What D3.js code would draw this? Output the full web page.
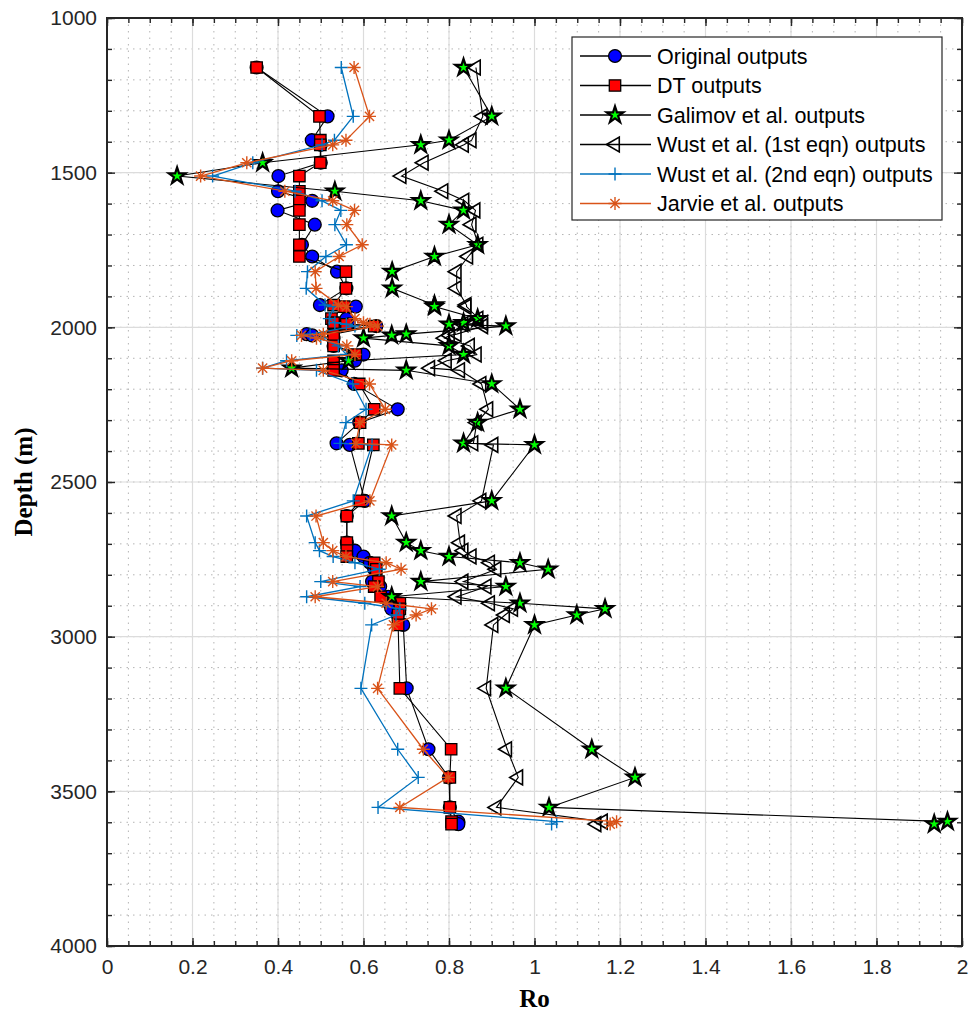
<!DOCTYPE html>
<html>
<head>
<meta charset="utf-8">
<script src="https://cdn.jsdelivr.net/npm/d3@7/dist/d3.min.js"></script>
<style>
	body { margin: 0; background: #fff; }
	text { font-family: 'Liberation Sans', Arial, sans-serif; }
</style>
</head>
<body>
<svg id="chart" width="978" height="1018"></svg>
<script>
// sample depths (m) - every series is plotted against the same depths
var depths = [1160, 1318, 1395, 1410, 1468, 1511, 1560, 1591, 1622, 1668, 1733, 1771, 1820, 1874, 1928, 1933,
	1972, 1985, 1990, 1996, 2022, 2026, 2035, 2060, 2088, 2108, 2132, 2139, 2183, 2265, 2308, 2375, 2380,
	2561, 2610, 2696, 2722, 2741, 2761, 2782, 2822, 2838, 2871, 2892, 2910, 2930, 2962,
	3167, 3364, 3455, 3552, 3598, 3606];

var originalRo = [0.35, 0.516, 0.479, 0.50, 0.50, 0.401, 0.40, 0.48, 0.399, 0.486, 0.456, 0.48, 0.538, 0.56, 0.498, 0.582,
	0.56, 0.53, 0.565, 0.63, 0.467, 0.48, 0.53, 0.53, 0.60, 0.58, 0.53, 0.549, 0.578, 0.68, 0.59, 0.537, 0.568,
	0.603, 0.561, 0.561, 0.58, 0.60, 0.615, 0.625, 0.62, 0.639, 0.658, 0.66, 0.665, 0.68, 0.693,
	0.701, 0.752, 0.80, 0.802, 0.822, 0.822];

var dtRo = [0.35, 0.497, 0.499, 0.499, 0.499, 0.45, 0.45, 0.45, 0.45, 0.45, 0.45, 0.45, 0.559, 0.559, 0.53, 0.555,
	0.525, 0.53, 0.56, 0.625, 0.53, 0.53, 0.53, 0.53, 0.582, 0.53, 0.53, 0.53, 0.59, 0.625, 0.592, 0.588, 0.623,
	0.592, 0.561, 0.561, 0.561, 0.561, 0.625, 0.63, 0.635, 0.625, 0.64, 0.685, 0.685, 0.681, 0.681,
	0.685, 0.805, 0.802, 0.802, 0.806, 0.806];

var galimovRo = [0.834, 0.90, 0.80, 0.734, 0.364, 0.164, 0.533, 0.734, 0.834, 0.80, 0.867, 0.766, 0.667, 0.667, 0.766, 0.766,
	0.867, 0.834, 0.80, 0.933, 0.70, 0.666, 0.60, 0.80, 0.834, 0.565, 0.432, 0.70, 0.90, 0.966, 0.867, 0.834, 1.0,
	0.90, 0.666, 0.70, 0.734, 0.80, 0.966, 1.032, 0.734, 0.933, 0.666, 0.966, 1.165, 1.099, 1.0,
	0.933, 1.134, 1.235, 1.034, 1.966, 1.935];

var wust1Ro = [0.863, 0.879, 0.853, 0.835, 0.741, 0.689, 0.787, 0.836, 0.862, 0.853, 0.869, 0.845, 0.818, 0.818, 0.841, 0.841,
	0.869, 0.88, 0.834, 0.88, 0.818, 0.802, 0.79, 0.849, 0.865, 0.795, 0.756, 0.826, 0.876, 0.892, 0.865, 0.857, 0.904,
	0.876, 0.818, 0.826, 0.834, 0.853, 0.896, 0.911, 0.834, 0.888, 0.818, 0.896, 0.95, 0.931, 0.904,
	0.887, 0.936, 0.962, 0.911, 1.16, 1.145];

var wust2Ro = [0.548, 0.576, 0.532, 0.503, 0.341, 0.247, 0.44, 0.503, 0.547, 0.533, 0.56, 0.512, 0.469, 0.466, 0.51, 0.53,
	0.52, 0.533, 0.56, 0.58, 0.475, 0.444, 0.50, 0.541, 0.56, 0.42, 0.364, 0.49, 0.575, 0.606, 0.559, 0.545, 0.62,
	0.576, 0.467, 0.487, 0.497, 0.529, 0.58, 0.637, 0.50, 0.592, 0.467, 0.603, 0.685, 0.676, 0.619,
	0.594, 0.68, 0.728, 0.634, 1.052, 1.04];

var jarvieRo = [0.578, 0.614, 0.559, 0.528, 0.327, 0.219, 0.416, 0.528, 0.579, 0.561, 0.597, 0.543, 0.487, 0.489, 0.541, 0.56,
	0.58, 0.60, 0.615, 0.633, 0.506, 0.455, 0.49, 0.561, 0.58, 0.432, 0.364, 0.506, 0.614, 0.651, 0.592, 0.582, 0.666,
	0.615, 0.489, 0.506, 0.528, 0.559, 0.653, 0.688, 0.528, 0.633, 0.487, 0.653, 0.759, 0.723, 0.67,
	0.633, 0.74, 0.798, 0.685, 1.192, 1.177];

var seriesNames = ['Original outputs', 'DT outputs', 'Galimov et al. outputs',
	'Wust et al. (1st eqn) outputs', 'Wust et al. (2nd eqn) outputs', 'Jarvie et al. outputs'];

var xTicks = [0, 0.2, 0.4, 0.6, 0.8, 1, 1.2, 1.4, 1.6, 1.8, 2];
var yTicks = [1000, 1500, 2000, 2500, 3000, 3500, 4000];

var axisColor = '#262626';

var svg = d3.select('#chart');
var x = d3.scaleLinear().domain([0, 2]).range([107, 962]);
var y = d3.scaleLinear().domain([1000, 4000]).range([18, 946]);

// minor positions: every 0.05 in Ro, every 100 m in depth
var xMinor = x.ticks(40);
var yMinor = y.ticks(30);

getPoints = function(values){
	return values.map(function(v, i){ return {ro: v, depth: depths[i]}; });
};

// marker shapes, matlab style
markerPath = function(type){
	if (type == 'circle'){
		return d3.symbol().type(d3.symbolCircle).size(130)();
	}
	else if (type == 'square'){
		return d3.symbol().type(d3.symbolSquare).size(130)();
	}
	else if (type == 'star'){
		return d3.symbol().type(d3.symbolStar).size(85)();
	}
	else if (type == 'triangle'){
		return d3.symbol().type(d3.symbolTriangle).size(95)();
	}
	else if (type == 'plus'){
		return 'M-6.5,0H6.5M0,-6.5V6.5';
	}
	else {
		return 'M-6.5,0H6.5M0,-6.5V6.5M-4.6,-4.6L4.6,4.6M-4.6,4.6L4.6,-4.6';
	}
};

markerStroke = function(type){
	if (type == 'star'){ return 2.2; }
	else if (type == 'triangle'){ return 1.6; }
	else if (type == 'plus' || type == 'asterisk'){ return 1.4; }
	return 1.3;
};

var series = [
	{name: seriesNames[0], values: originalRo, line: '#000', marker: 'circle', fill: '#0000ff', edge: '#000'},
	{name: seriesNames[1], values: dtRo, line: '#000', marker: 'square', fill: '#ff0000', edge: '#000'},
	{name: seriesNames[2], values: galimovRo, line: '#000', marker: 'star', fill: '#00ff00', edge: '#000'},
	{name: seriesNames[3], values: wust1Ro, line: '#000', marker: 'triangle', fill: 'none', edge: '#000'},
	{name: seriesNames[4], values: wust2Ro, line: '#0072bd', marker: 'plus', fill: 'none', edge: '#0072bd'},
	{name: seriesNames[5], values: jarvieRo, line: '#d95319', marker: 'asterisk', fill: 'none', edge: '#d95319'}
];

markerTransform = function(type, px, py){
	// '<' marker points left
	if (type == 'triangle'){
		return 'translate(' + px + ',' + py + ') rotate(-90)';
	}
	return 'translate(' + px + ',' + py + ')';
};

// grid
var grid = svg.append('g').attr('class', 'grid');
grid.selectAll('.xMinor')
	.data(xMinor)
	.enter()
	.append('line')
	.attr('x1', function(d) { return x(d); })
	.attr('x2', function(d) { return x(d); })
	.attr('y1', y(1000))
	.attr('y2', y(4000))
	.attr('stroke', '#b4b4b4')
	.attr('stroke-width', 1)
	.attr('stroke-dasharray', '1.5,5');
grid.selectAll('.yMinor')
	.data(yMinor)
	.enter()
	.append('line')
	.attr('y1', function(d) { return y(d); })
	.attr('y2', function(d) { return y(d); })
	.attr('x1', x(0))
	.attr('x2', x(2))
	.attr('stroke', '#b4b4b4')
	.attr('stroke-width', 1)
	.attr('stroke-dasharray', '1.5,5');
grid.selectAll('.xMajor')
	.data(xTicks)
	.enter()
	.append('line')
	.attr('x1', function(d) { return x(d); })
	.attr('x2', function(d) { return x(d); })
	.attr('y1', y(1000))
	.attr('y2', y(4000))
	.attr('stroke', '#dcdcdc')
	.attr('stroke-width', 1.2);
grid.selectAll('.yMajor')
	.data(yTicks)
	.enter()
	.append('line')
	.attr('y1', function(d) { return y(d); })
	.attr('y2', function(d) { return y(d); })
	.attr('x1', x(0))
	.attr('x2', x(2))
	.attr('stroke', '#dcdcdc')
	.attr('stroke-width', 1.2);

// series: line first, then markers (same order as the legend)
var line = d3.line()
	.x(function(d) { return x(d.ro); })
	.y(function(d) { return y(d.depth); });

series.forEach(function(s){
	var g = svg.append('g').attr('class', 'series');
	var pts = getPoints(s.values);
	g.append('path')
		.datum(pts)
		.attr('d', line)
		.attr('fill', 'none')
		.attr('stroke', s.line)
		.attr('stroke-width', s.line == '#000' ? 1.1 : 1.3);
	g.selectAll('path.mk')
		.data(pts)
		.enter()
		.append('path')
		.attr('class', 'mk')
		.attr('d', markerPath(s.marker))
		.attr('transform', function(d) { return markerTransform(s.marker, x(d.ro), y(d.depth)); })
		.attr('fill', s.fill)
		.attr('stroke', s.edge)
		.attr('stroke-linejoin', 'miter')
		.attr('stroke-width', markerStroke(s.marker));
});

// axes, ticks pointing in, box on
var xAxisB = svg.append('g')
	.attr('transform', 'translate(0,' + y(4000) + ')')
	.call(d3.axisBottom(x).tickValues(xTicks).tickSizeInner(-8).tickSizeOuter(0).tickPadding(13)
		.tickFormat(function(d) { return d3.format('~g')(d); }));
var xMinorB = svg.append('g')
	.attr('transform', 'translate(0,' + y(4000) + ')')
	.call(d3.axisBottom(x).tickValues(xMinor).tickSizeInner(-5).tickSizeOuter(0).tickFormat(''));
var xAxisT = svg.append('g')
	.attr('transform', 'translate(0,' + y(1000) + ')')
	.call(d3.axisTop(x).tickValues(xTicks).tickSizeInner(-8).tickSizeOuter(0).tickFormat(''));
var xMinorT = svg.append('g')
	.attr('transform', 'translate(0,' + y(1000) + ')')
	.call(d3.axisTop(x).tickValues(xMinor).tickSizeInner(-5).tickSizeOuter(0).tickFormat(''));
var yAxisL = svg.append('g')
	.attr('transform', 'translate(' + x(0) + ',0)')
	.call(d3.axisLeft(y).tickValues(yTicks).tickSizeInner(-8).tickSizeOuter(0).tickPadding(10)
		.tickFormat(d3.format('d')));
var yMinorL = svg.append('g')
	.attr('transform', 'translate(' + x(0) + ',0)')
	.call(d3.axisLeft(y).tickValues(yMinor).tickSizeInner(-5).tickSizeOuter(0).tickFormat(''));
var yAxisR = svg.append('g')
	.attr('transform', 'translate(' + x(2) + ',0)')
	.call(d3.axisRight(y).tickValues(yTicks).tickSizeInner(-8).tickSizeOuter(0).tickFormat(''));
var yMinorR = svg.append('g')
	.attr('transform', 'translate(' + x(2) + ',0)')
	.call(d3.axisRight(y).tickValues(yMinor).tickSizeInner(-5).tickSizeOuter(0).tickFormat(''));

[xAxisB, xMinorB, xAxisT, xMinorT, yAxisL, yMinorL, yAxisR, yMinorR].forEach(function(a){
	a.select('.domain').remove();
	a.selectAll('line').attr('stroke', axisColor).attr('stroke-width', 1.4);
	a.selectAll('text')
		.attr('fill', axisColor)
		.style('font-size', '21px')
		.style('font-family', "'Liberation Sans', Arial, sans-serif");
});

svg.append('rect')
	.attr('x', x(0))
	.attr('y', y(1000))
	.attr('width', x(2) - x(0))
	.attr('height', y(4000) - y(1000))
	.attr('fill', 'none')
	.attr('stroke', axisColor)
	.attr('stroke-width', 2);

// axis titles
svg.append('text')
	.attr('x', (x(0) + x(2)) / 2)
	.attr('y', 1007)
	.attr('text-anchor', 'middle')
	.style('font-family', "'Liberation Serif', 'Times New Roman', serif")
	.style('font-weight', 'bold')
	.style('font-size', '25px')
	.text('Ro');
svg.append('text')
	.attr('transform', 'translate(32,' + (y(1000) + y(4000)) / 2 + ') rotate(-90)')
	.attr('text-anchor', 'middle')
	.style('font-family', "'Liberation Serif', 'Times New Roman', serif")
	.style('font-weight', 'bold')
	.style('font-size', '25px')
	.text('Depth (m)');

// legend
var legend = svg.append('g').attr('class', 'legend');
legend.append('rect')
	.attr('x', 572)
	.attr('y', 37)
	.attr('width', 370)
	.attr('height', 183)
	.attr('fill', '#fff')
	.attr('stroke', axisColor)
	.attr('stroke-width', 1.2);

var rows = legend.selectAll('g.row')
	.data(series)
	.enter()
	.append('g')
	.attr('class', 'row')
	.attr('transform', function(d, i) { return 'translate(0,' + (56 + i * 29.5) + ')'; });
rows.append('line')
	.attr('x1', 580)
	.attr('x2', 651)
	.attr('stroke', function(d) { return d.line; })
	.attr('stroke-width', 1.4);
rows.append('path')
	.attr('d', function(d) { return markerPath(d.marker); })
	.attr('transform', function(d) { return markerTransform(d.marker, 615, 0); })
	.attr('fill', function(d) { return d.fill; })
	.attr('stroke', function(d) { return d.edge; })
	.attr('stroke-width', function(d) { return markerStroke(d.marker); });
rows.append('text')
	.attr('x', 657)
	.attr('y', 7.5)
	.attr('fill', '#000')
	.style('font-size', '21.5px')
	.text(function(d) { return d.name; });
</script>
</body>
</html>
